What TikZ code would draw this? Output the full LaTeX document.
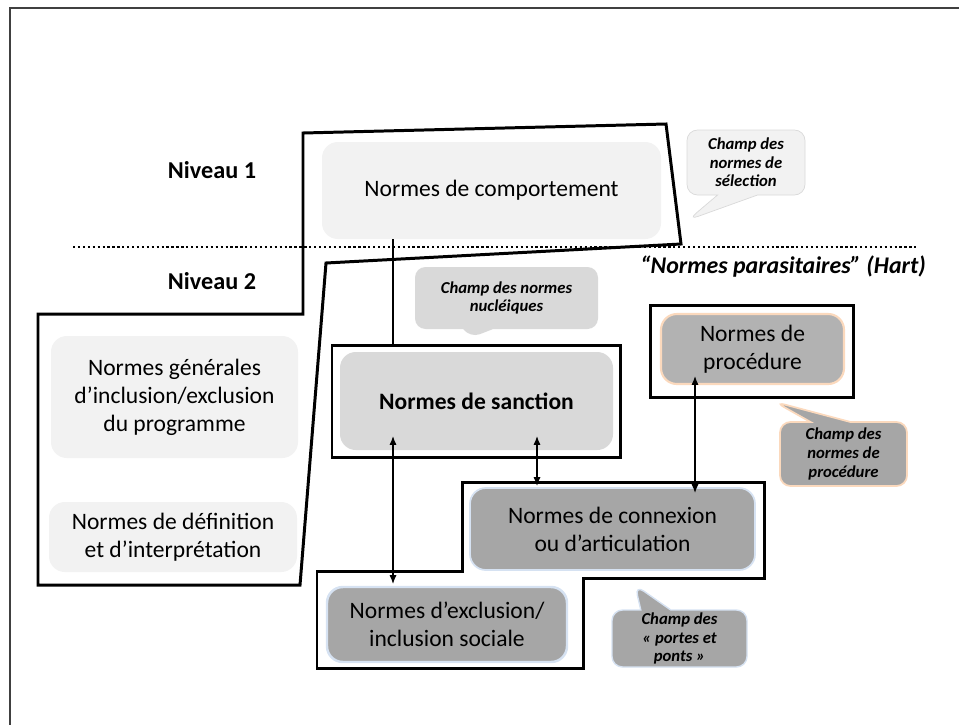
\documentclass[tikz,border=0pt]{standalone}
\usepackage{fontspec}
\setmainfont{Carlito}
\usetikzlibrary{arrows.meta,shapes.callouts}

\definecolor{clair}{HTML}{F2F2F2}
\definecolor{moyen}{HTML}{D9D9D9}
\definecolor{fonce}{HTML}{A6A6A6}
\definecolor{proc}{HTML}{B2B2B2}
\definecolor{orangeclair}{HTML}{FBD9BD}
\definecolor{bleuclair}{HTML}{D6E2F2}

\begin{document}
\begin{tikzpicture}[x=0.02cm,y=-0.02cm,
  taille/.style 2 args={minimum width=#1*0.02cm, minimum height=#2*0.02cm},
  normbox/.style={rounded corners=9pt, inner sep=0pt, align=center, font=\fontsize{13.4}{16}\selectfont},
  cadre/.style={line width=1.7pt},
  champ/.style={rectangle callout, rounded corners=6pt, inner sep=0pt, align=center, font=\fontsize{9.5}{10.6}\selectfont\bfseries\itshape},
  lien/.style={line width=0.7pt, {Latex[length=5pt,width=4pt]}-{Latex[length=5pt,width=4pt]}},
  niveau/.style={font=\fontsize{13.8}{16}\selectfont\bfseries}]
	\useasboundingbox (0,0) rectangle (959,724);
	\draw[line width=1.1pt, black!75] (10,740) -- (10,8) -- (975,8);
	\draw[line width=1.4pt, dash pattern=on 1.3pt off 1.5pt] (73,247) -- (916,247);
	\node[niveau] (niv1) at (212,170) {Niveau 1};
	\node[niveau] (niv2) at (212,281) {Niveau 2};
	\node[font=\fontsize{13.6}{16}\selectfont\bfseries\itshape] (hart) at (783,267) {“Normes parasitaires” (Hart)};
	\draw[cadre] (303,133) -- (666,124) -- (681,244) -- (326,263) -- (300,585) -- (38,585) -- (38,314) -- (303,314) -- cycle;
	\draw[cadre] (462,482) -- (764,482) -- (764,578) -- (583,578) -- (583,668) -- (317,668) -- (317,571) -- (462,571) -- cycle;
	\node[normbox, fill=clair, taille={339}{97}] (comport) at (491.5,190.5) {Normes de comportement};
	\node[normbox, fill=clair, taille={247}{122}] (generales) at (174.5,397) {Normes générales\\d’inclusion/exclusion\\du programme};
	\node[normbox, fill=clair, taille={248}{70}] (definition) at (173,537) {Normes de définition\\et d’interprétation};
	\node[cadre, draw, taille={288}{112}] (sancframe) at (476,401) {};
	\node[normbox, fill=moyen, taille={273}{98}, font=\fontsize{13.4}{16}\selectfont\bfseries] (sanction) at (476.5,401) {Normes de sanction};
	\node[cadre, draw, taille={203}{92}] (procframe) at (751.5,351) {};
	\node[normbox, fill=proc, draw=orangeclair, line width=1.2pt, taille={183}{70}] (procedure) at (752.5,349) {Normes de\\procédure};
	\node[normbox, fill=fonce, draw=bleuclair, line width=1pt, taille={285}{82}] (connexion) at (612.5,529) {Normes de connexion\\ou d’articulation};
	\node[normbox, fill=fonce, draw=bleuclair, line width=1.4pt, taille={240}{75}] (exclusion) at (447,624.5) {Normes d’exclusion/\\inclusion sociale};
	\node[champ, fill=clair, draw=black!15, taille={118}{65}, callout absolute pointer={(688,220)}, callout pointer width=0.8cm] (selection) at (746,162.5) {Champ des\\normes de\\sélection};
	\node[champ, fill=moyen, taille={183}{62}, callout absolute pointer={(470,338)}, callout pointer width=0.6cm] (nucleiques) at (506.5,298) {Champ des normes\\nucléiques};
	\node[champ, fill=fonce, draw=orangeclair, line width=1pt, taille={127}{64}, callout absolute pointer={(775,402)}, callout pointer width=0.8cm] (champproc) at (843.5,454) {Champ des\\normes de\\procédure};
	\node[champ, fill=fonce, draw=bleuclair, line width=0.8pt, taille={135}{57}, callout absolute pointer={(635,585)}, callout pointer width=0.6cm] (portes) at (679.5,638.5) {Champ des\\« portes et\\ponts »};
	\coordinate (s1) at (393,436);
	\coordinate (s2) at (537,436);
	\coordinate (e1) at (393,584);
	\coordinate (c1) at (537,486);
	\coordinate (c2) at (695,493);
	\coordinate (p1) at (695,376);
	\draw[line width=0.7pt] (comport.south -| s1) -- (sancframe.north -| s1);
	\draw[lien] (s1) -- (e1);
	\draw[lien] (s2) -- (c1);
	\draw[lien] (p1) -- (c2);
\end{tikzpicture}
\end{document}
